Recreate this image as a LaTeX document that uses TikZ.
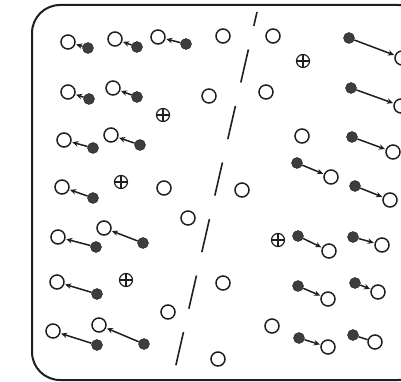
\documentclass[tikz,border=0pt]{standalone}
\usetikzlibrary{arrows.meta}
\definecolor{ink}{gray}{0.12}
\definecolor{dotc}{gray}{0.24}
\tikzset{
  open/.style={circle, draw=ink, line width=1.5pt, inner sep=0pt, minimum size=14pt, fill=white},
  dot/.style={circle, fill=dotc, draw=ink, line width=0.4pt, inner sep=0pt, minimum size=11pt},
  plus/.style={circle, draw=ink, line width=1.2pt, inner sep=0pt, minimum size=13pt,
    path picture={\draw[ink, line width=1.1pt]
      (path picture bounding box.north) -- (path picture bounding box.south)
      (path picture bounding box.west) -- (path picture bounding box.east);}},
  flow/.style={draw=ink, line width=1.5pt, -{Stealth[length=6pt,width=5.5pt]}, shorten >=0.8pt},
  bare/.style={draw=ink, line width=1.5pt},
  frame/.style={draw=ink, line width=2pt, rounded corners=28pt},
  barrier/.style={draw=ink, line width=1.6pt, dash pattern=on 34pt off 24pt, dash phase=19.6pt}
}
\begin{document}
\begin{tikzpicture}[x=1pt, y=-1pt]
\useasboundingbox (0,0) rectangle (401,382);
\clip (0,0) rectangle (401,382);
\fill[white] (0,0) rectangle (401,382);
\draw[frame] (32,5) rectangle (426,380);
% barrier
\coordinate (btop) at (257,12);
\coordinate (bbot) at (175,369);
\draw[barrier] (btop) -- (bbot);
% left pairs: arrow from filled to open
\foreach \n/\ox/\oy/\fx/\fy in {
  1/68/42/88/48, 2/115/39/137/47, 3/158/37/186/44,
  4/68/92/89/99, 5/113/88/137/97,
  6/64/140/93/148, 7/111/135/140/145,
  8/62/187/93/198,
  9/58/237/96/247, 10/104/228/143/243,
  11/57/282/97/294,
  12/53/331/97/345, 13/99/325/144/344}{
  \node[open] (lo\n) at (\ox,\oy) {};
  \node[dot] (lf\n) at (\fx,\fy) {};
  \draw[flow] (lf\n) -- (lo\n);
}
% right pairs: arrow from filled to open
\foreach \n/\fx/\fy/\ox/\oy in {
  1/349/38/402/58, 2/351/88/401/106, 3/352/137/393/152,
  4/297/163/331/177, 5/355/186/390/200,
  6/298/236/329/251, 7/353/237/382/245,
  8/298/286/328/299, 9/355/283/378/292,
  10/299/338/328/347}{
  \node[open] (ro\n) at (\ox,\oy) {};
  \node[dot] (rf\n) at (\fx,\fy) {};
  \draw[flow] (rf\n) -- (ro\n);
}
\node[open] (ro11) at (375,342) {};
\node[dot] (rf11) at (353,335) {};
\draw[bare] (rf11) -- (ro11);
% single open circles
\foreach \n/\x/\y in {1/164/188, 2/188/218, 3/168/312, 4/223/36, 5/273/36,
  6/209/96, 7/266/92, 8/302/136, 9/242/190, 10/223/283, 11/272/326, 12/218/359}{
  \node[open] (s\n) at (\x,\y) {};
}
% plus ions
\foreach \n/\x/\y in {1/163/115, 2/121/182, 3/126/280, 4/303/61, 5/278/240}{
  \node[plus] (p\n) at (\x,\y) {};
}
\end{tikzpicture}
\end{document}
